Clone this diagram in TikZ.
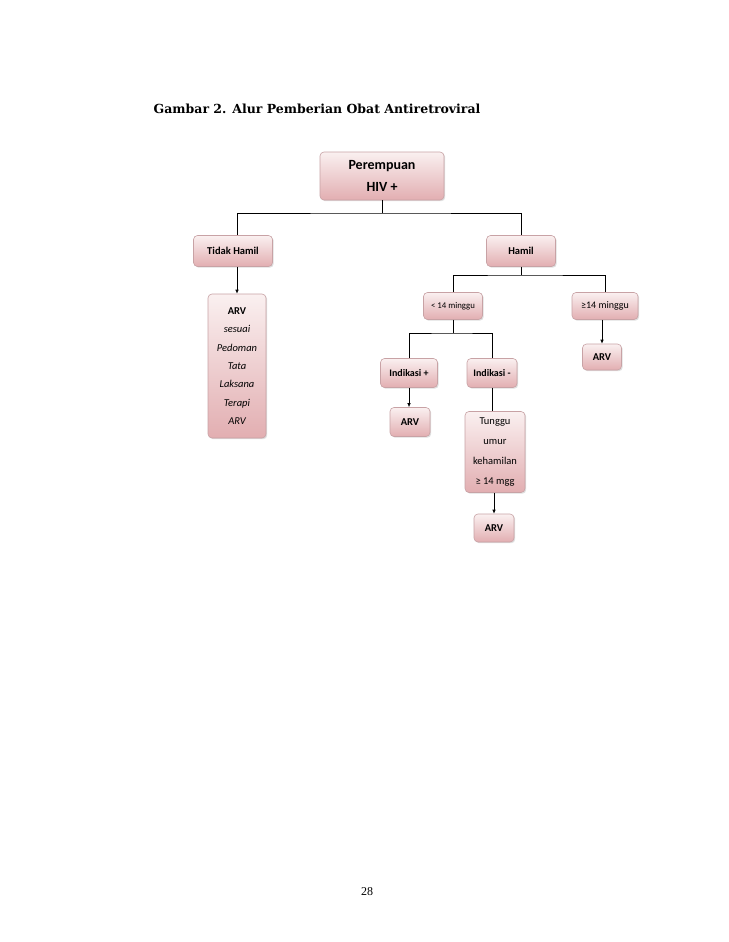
\documentclass[tikz,border=0pt]{standalone}
\usepackage{fontspec}
\setmainfont{Carlito}
\newfontfamily\titlefont{DejaVu Serif}
\newfontfamily\pagefont{Liberation Serif}
\usetikzlibrary{arrows.meta, shadows}
\definecolor{pinktop}{HTML}{FAF0F0}
\definecolor{pinkbot}{HTML}{E2AEB1}
\definecolor{pinkline}{HTML}{C8A2A5}

\begin{document}
\begin{tikzpicture}[
    x=1pt, y={(0,-1pt)},
    line width=0.7pt,
    arr/.style={-{Latex[length=4pt, width=3.5pt]}},
    box/.style={
        rectangle, rounded corners=4pt, draw=pinkline, line width=0.6pt,
        top color=pinktop, bottom color=pinkbot, align=center,
        inner sep=1pt, font=\fontsize{10.5}{12}\selectfont\bfseries,
        drop shadow={opacity=0.25, shadow xshift=1.2pt, shadow yshift=-1.2pt}
    },
    tallbox/.style={box, font=\fontsize{10.5}{18.3}\selectfont},
]
    \useasboundingbox[fill=white] (0,0) rectangle (728,942);

    \node[anchor=base west, font=\titlefont\bfseries\fontsize{12.5}{14}\selectfont]
        (judul) at (150,113) {Gambar 2. Alur Pemberian Obat Antiretroviral};

    % Kotak-kotak
    \node[box, minimum width=124, minimum height=48,
          font=\fontsize{14}{22}\selectfont\bfseries] (perempuan) at (382,176) {Perempuan\\HIV +};
    \node[box, minimum width=79, minimum height=31] (tidak) at (233,251) {Tidak Hamil};
    \node[box, minimum width=69, minimum height=31] (hamil) at (521,251) {Hamil};
    \node[tallbox, minimum width=58, minimum height=144] (pedoman) at (237,366)
        {\textbf{ARV}\\\itshape sesuai\\\itshape Pedoman\\\itshape Tata\\\itshape Laksana\\\itshape Terapi\\\itshape ARV};
    \node[box, minimum width=59, minimum height=27,
          font=\fontsize{8.8}{10}\selectfont] (kurang) at (453,306) {< 14 minggu};
    \node[box, minimum width=66, minimum height=27,
          font=\fontsize{10}{12}\selectfont] (lebih) at (605,306) {≥14 minggu};
    \node[box, minimum width=39, minimum height=26] (arvlebih) at (602,357) {ARV};
    \node[box, minimum width=57, minimum height=29,
          font=\fontsize{10}{12}\selectfont\bfseries] (indplus) at (409,373) {Indikasi +};
    \node[box, minimum width=50, minimum height=29,
          font=\fontsize{10}{12}\selectfont\bfseries] (indmin) at (492,373) {Indikasi -};
    \node[box, minimum width=40, minimum height=29] (arvplus) at (410,422) {ARV};
    \node[tallbox, minimum width=60, minimum height=81,
          font=\fontsize{10.5}{20}\selectfont] (tunggu) at (495,452) {Tunggu\\umur\\kehamilan\\≥ 14 mgg};
    \node[box, minimum width=40, minimum height=28] (arvtunggu) at (494,528) {ARV};

    % Percabangan
    \coordinate (j1) at (382,213);
    \coordinate (j2) at (521,275);
    \coordinate (j3) at (453,333);

    \draw (perempuan.south) -- (j1);
    \draw (tidak.north -| pedoman.north) |- (j1) -| (hamil.north);
    \draw[arr] (tidak.south -| pedoman.north) -- (pedoman.north);

    \draw (hamil.south) -- (j2);
    \draw (kurang.north) |- (j2) -| (lebih.north);
    \draw[arr] (lebih.south -| arvlebih.north) -- (arvlebih.north);

    \draw (kurang.south) -- (j3);
    \draw (indplus.north) |- (j3) -| (indmin.north);
    \draw[arr] (indplus.south) -- (indplus.south |- arvplus.north);
    \draw (indmin.south) -- (indmin.south |- tunggu.north);
    \draw[arr] (tunggu.south -| arvtunggu.north) -- (arvtunggu.north);

    \node[font=\pagefont\fontsize{12}{14}\selectfont] (halaman) at (367,892) {28};
\end{tikzpicture}
\end{document}
